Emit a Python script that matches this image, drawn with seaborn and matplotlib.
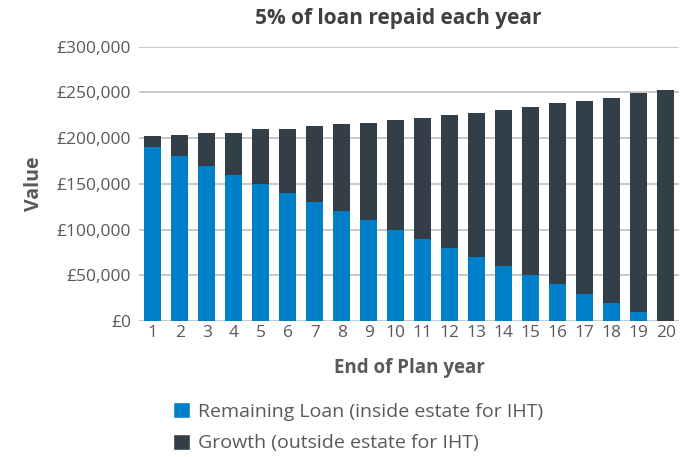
import matplotlib
matplotlib.use("Agg")
import matplotlib.pyplot as plt
import seaborn as sns
import pandas as pd
from matplotlib.patches import Patch
from matplotlib.ticker import FuncFormatter

years = [str(i) for i in range(1, 21)]
remaining_loan = [190000, 180000, 170000, 160000, 150000, 140000, 130000, 120000, 110000, 100000,
                  90000, 80000, 70000, 60000, 50000, 40000, 30000, 20000, 10000, 0]
growth = [12000, 24000, 36000, 46000, 60000, 70000, 83000, 95000, 107000, 120000,
          132000, 145000, 158000, 171000, 184000, 198000, 211000, 224000, 239000, 253000]

title = "5% of loan repaid each year"
x_label = "End of Plan year"
y_label = "Value"
series_names = ["Remaining Loan (inside estate for IHT)", "Growth (outside estate for IHT)"]
colors = ["#0080C9", "#333F48"]

sns.set_theme(style="white")
plt.rcParams["font.family"] = ["Open Sans", "DejaVu Sans"]

df = pd.DataFrame({"year": years, "loan": remaining_loan, "growth": growth})
df["total"] = df["loan"] + df["growth"]

fig = plt.figure(figsize=(6.86, 4.57), dpi=100)
ax = fig.add_axes([0.203, 0.2976, 0.787, 0.6])

sns.barplot(data=df, x="year", y="total", color=colors[1], saturation=1, width=0.62,
            linewidth=0, ax=ax, zorder=3)
sns.barplot(data=df, x="year", y="loan", color=colors[0], saturation=1, width=0.62,
            linewidth=0, ax=ax, zorder=4)

ax.set_ylim(0, 300000)
ax.set_xlim(-0.5, 19.5)
ax.set_yticks(range(0, 300001, 50000))
ax.yaxis.set_major_formatter(FuncFormatter(lambda v, p: f"£{int(v):,}"))
ax.grid(axis="y", color="#BFBFBF", linewidth=1.2, zorder=0)
ax.set_axisbelow(True)
for s in ax.spines.values():
    s.set_visible(False)
ax.tick_params(axis="both", length=0, colors="#595959", labelsize=12.5)
ax.tick_params(axis="y", pad=6)
ax.tick_params(axis="x", pad=3)

ax.set_xlabel(x_label, fontsize=13.5, fontweight="bold", color="#595959", labelpad=12)
ax.set_ylabel(y_label, fontsize=14, fontweight="bold", color="#595959", labelpad=9)
fig.text(0.58, 0.96, title, ha="center", va="center", fontsize=15, fontweight="bold", color="#404040")

handles = [Patch(facecolor=colors[0]), Patch(facecolor=colors[1])]
fig.legend(handles, series_names, loc="upper left", bbox_to_anchor=(0.252, 0.12), frameon=False,
           fontsize=14, labelcolor="#595959", handlelength=0.9, handleheight=0.9, handletextpad=0.4,
           labelspacing=0.65, borderaxespad=0, borderpad=0)

fig.savefig("out.png", dpi=100)
